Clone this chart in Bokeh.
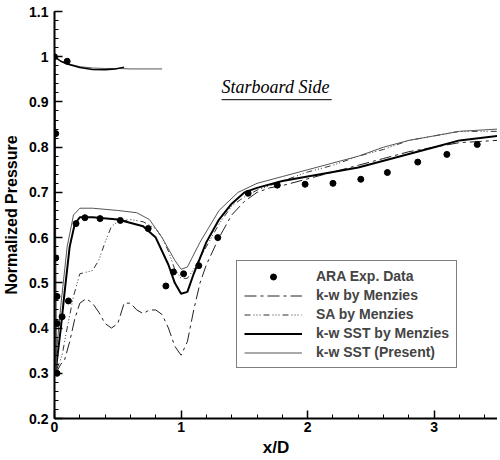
from bokeh.plotting import figure
from bokeh.models import (Range1d, SingleIntervalTicker, CustomJSTickFormatter,
                          Legend, LegendItem, Label)
from bokeh.embed import file_html
from bokeh.resources import INLINE

# ---------------- data ----------------
exp_x = [0.0, 0.10, 0.01, 0.01, 0.02, 0.02, 0.06, 0.11, 0.02,
         0.17, 0.24, 0.36, 0.52, 0.74, 0.88, 0.94, 1.02, 1.14, 1.29,
         1.53, 1.76, 1.98, 2.20, 2.42, 2.63, 2.87, 3.10, 3.34]
exp_y = [1.0, 0.99, 0.83, 0.555, 0.47, 0.41, 0.425, 0.46, 0.30,
         0.631, 0.644, 0.642, 0.638, 0.62, 0.493, 0.524, 0.52, 0.538, 0.60,
         0.698, 0.716, 0.718, 0.72, 0.729, 0.744, 0.767, 0.784, 0.806]

kw_x = [0.01, 0.05, 0.08, 0.12, 0.16, 0.20, 0.25, 0.30, 0.35, 0.40, 0.45, 0.50,
        0.55, 0.60, 0.65, 0.70, 0.75, 0.80, 0.85, 0.90, 0.95, 1.00, 1.05, 1.10,
        1.15, 1.20, 1.30, 1.40, 1.50, 1.60, 1.70, 1.80, 2.00, 2.20, 2.40, 2.60,
        2.80, 3.00, 3.20, 3.50]
kw_y = [0.30, 0.32, 0.33, 0.37, 0.42, 0.455, 0.465, 0.455, 0.435, 0.41, 0.40, 0.41,
        0.455, 0.455, 0.44, 0.432, 0.44, 0.44, 0.43, 0.40, 0.36, 0.34, 0.37, 0.44,
        0.50, 0.54, 0.60, 0.65, 0.68, 0.70, 0.71, 0.715, 0.73, 0.745, 0.76, 0.775,
        0.79, 0.80, 0.81, 0.815]

sa_x = [0.02, 0.06, 0.10, 0.15, 0.20, 0.30, 0.35, 0.40, 0.45, 0.50, 0.60, 0.70,
        0.80, 0.85, 0.90, 0.95, 1.00, 1.05, 1.10, 1.20, 1.30, 1.40, 1.50, 1.60,
        1.80, 2.00, 2.20, 2.40, 2.60, 2.80, 3.00, 3.20, 3.50]
sa_y = [0.31, 0.34, 0.40, 0.47, 0.52, 0.527, 0.55, 0.59, 0.625, 0.635, 0.64, 0.635,
        0.62, 0.60, 0.57, 0.53, 0.51, 0.51, 0.53, 0.58, 0.63, 0.67, 0.69, 0.705,
        0.725, 0.745, 0.76, 0.78, 0.795, 0.815, 0.825, 0.835, 0.835]

sstm_x = [0.0, 0.005, 0.01, 0.02, 0.05, 0.08, 0.12, 0.16, 0.20, 0.30, 0.50, 0.70,
          0.80, 0.90, 0.95, 1.00, 1.05, 1.10, 1.20, 1.30, 1.40, 1.50, 1.60, 1.80,
          2.00, 2.20, 2.40, 2.60, 2.80, 3.00, 3.20, 3.50]
sstm_y = [1.0, 0.60, 0.30, 0.33, 0.40, 0.48, 0.58, 0.63, 0.645, 0.645, 0.64, 0.625,
          0.60, 0.54, 0.50, 0.476, 0.48, 0.52, 0.59, 0.64, 0.675, 0.70, 0.71, 0.725,
          0.735, 0.745, 0.755, 0.77, 0.785, 0.80, 0.815, 0.825]

sstp_x = [0.0, 0.005, 0.01, 0.02, 0.05, 0.10, 0.15, 0.20, 0.30, 0.50, 0.65, 0.75,
          0.85, 0.95, 1.00, 1.05, 1.15, 1.30, 1.45, 1.60, 1.80, 2.00, 2.20, 2.40,
          2.60, 2.80, 3.00, 3.20, 3.50]
sstp_y = [1.0, 0.60, 0.30, 0.36, 0.45, 0.58, 0.65, 0.665, 0.665, 0.66, 0.655, 0.64,
          0.60, 0.55, 0.53, 0.535, 0.59, 0.66, 0.70, 0.72, 0.735, 0.75, 0.765, 0.78,
          0.80, 0.815, 0.825, 0.835, 0.84]

# upper (stagnation) branches
up1_x = [0.0, 0.02, 0.05, 0.10, 0.20, 0.30, 0.40, 0.50, 0.60, 0.70, 0.85]
up1_y = [1.0, 0.995, 0.99, 0.985, 0.978, 0.975, 0.974, 0.974, 0.973, 0.973, 0.973]
up2_x = [0.0, 0.05, 0.10, 0.20, 0.30, 0.40, 0.48, 0.55]
up2_y = [1.0, 0.99, 0.984, 0.976, 0.972, 0.971, 0.973, 0.977]

legend_labels = ["ARA Exp. Data", "k-w by Menzies", "SA by Menzies",
                 "k-w SST by Menzies", "k-w SST (Present)"]
note_text = "Starboard Side"
note_x = [1.32, 2.19]
note_y = [0.905, 0.905]

# ---------------- figure ----------------
p = figure(width=497, height=459, output_backend="svg", toolbar_location=None,
           x_range=Range1d(0, 3.5), y_range=Range1d(0.2, 1.1),
           min_border_left=54, min_border_right=0, min_border_top=11,
           min_border_bottom=41)
p.outline_line_color = None
p.xgrid.visible = False
p.ygrid.visible = False
p.background_fill_color = "white"
p.border_fill_color = "white"

r_kw = p.line(kw_x, kw_y, line_color="#222222", line_width=1, line_dash="12 4 3 4")
r_sa = p.line(sa_x, sa_y, line_color="#333333", line_width=1, line_dash="6 3 1 2 1 2 1 3")
r_sstm = p.line(sstm_x, sstm_y, line_color="black", line_width=2)
r_sstp = p.line(sstp_x, sstp_y, line_color="#555555", line_width=1)
p.line(up1_x, up1_y, line_color="#555555", line_width=1)
p.line(up2_x, up2_y, line_color="black", line_width=1.5)
r_exp = p.scatter(exp_x, exp_y, marker="circle", size=6, fill_color="black",
                  line_color="black")

fmt = CustomJSTickFormatter(code="return String(Math.round(tick*10)/10);")
for ax, iv in ((p.xaxis[0], 1), (p.yaxis[0], 0.1)):
    ax.ticker = SingleIntervalTicker(interval=iv, num_minor_ticks=5)
    ax.formatter = fmt
    ax.axis_line_width = 2
    ax.axis_line_color = "black"
    ax.major_tick_in = 8
    ax.major_tick_out = 0
    ax.minor_tick_in = 4
    ax.minor_tick_out = 0
    ax.major_tick_line_width = 1.5
    ax.major_label_text_font = "Liberation Sans"
    ax.major_label_text_font_style = "bold"
    ax.major_label_text_font_size = "14px"
    ax.major_label_text_color = "black"
    ax.axis_label_text_font = "Liberation Sans"
    ax.axis_label_text_font_style = "bold"
    ax.axis_label_text_color = "black"

p.xaxis.axis_label = "x/D"
p.xaxis.axis_label_text_font_size = "17px"
p.xaxis.major_label_standoff = 3
p.xaxis.axis_label_standoff = 3
p.yaxis.axis_label = "Normalized Pressure"
p.yaxis.axis_label_text_font_size = "16px"
p.yaxis.major_label_standoff = 6
p.yaxis.axis_label_standoff = 6

legend = Legend(items=[
    LegendItem(label=legend_labels[0], renderers=[r_exp]),
    LegendItem(label=legend_labels[1], renderers=[r_kw]),
    LegendItem(label=legend_labels[2], renderers=[r_sa]),
    LegendItem(label=legend_labels[3], renderers=[r_sstm]),
    LegendItem(label=legend_labels[4], renderers=[r_sstp]),
], location=(182, 50))
legend.label_text_font = "Liberation Sans"
legend.label_text_font_style = "bold"
legend.label_text_font_size = "14px"
legend.label_height = 15
legend.glyph_height = 15
legend.glyph_width = 58
legend.spacing = 3
legend.padding = 7
legend.margin = 0
legend.label_standoff = 14
legend.border_line_color = "black"
legend.border_line_width = 1
legend.background_fill_alpha = 1
p.add_layout(legend, "center")

p.add_layout(Label(x=note_x[0], y=note_y[0] + 0.007, text=note_text,
                   text_font="Liberation Serif", text_font_style="italic",
                   text_font_size="18px", text_color="black"))
p.line(note_x, note_y, line_color="black", line_width=1)

open("out.html", "w").write(file_html(p, INLINE))
